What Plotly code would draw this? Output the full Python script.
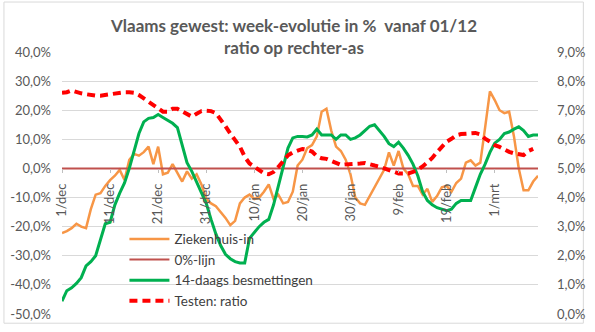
import pandas as pd
import plotly.graph_objects as go

dates = pd.date_range("2020-12-01", periods=100, freq="D")

ziekenhuis = [-22.2, -21.5, -20.5, -19, -20, -20.5, -14, -9, -8.5, -6,
              -4, -2.5, -0.5, -4, 3, 5, 4.4, 5.6, 7.5, 1.5,
              7.5, -2, -1.5, 1.5, -1.5, -4.5, -1, -3.5, -2, -5.5,
              -10.5, -12, -13, -15, -17, -19.5, -18, -12, -10, -9,
              -10.5, -10, -8, -5.5, -10.5, -9, -12, -11.5, -8, 1,
              3, 7, 8, 11, 19.5, 20.5, 13, 7.5, 6, 3,
              -2, -10, -12, -12.5, -9.5, -6, -3, -0.5, 5.5, 1,
              6, 0, -2, -6, -6, -9, -7, -11.5, -9.5, -6.5,
              -6, -8, -5, -3.5, 2, 2.8, 1, 2, 14, 26.5,
              23.5, 20, 19, 19.5, 11, 0, -7.5, -7.5, -4.5, -2.5]

besmettingen = [-45.6, -42, -41, -39.5, -37.5, -33.5, -32, -30, -24.5, -19,
                -18.5, -12.5, -8.5, -5, 0, 6, 12, 16, 17.2, 17.5,
                18.5, 17.5, 16.5, 15.5, 14, 7.5, 2, -1, -4.5, -8,
                -12, -17.5, -22.5, -26.5, -29.5, -31, -32, -32.5, -32.5, -24,
                -22, -20, -18.5, -17.5, -12.5, -6, 1, 7, 10.5, 11,
                11, 10.8, 11.5, 13.5, 11.5, 11.5, 11.5, 10, 11.5, 11.5,
                10, 10.5, 11.5, 13, 14.5, 15, 13, 11, 8.5, 7.5,
                9, 7, 4.5, 1.5, -2.5, -8, -11, -12.5, -13.5, -14,
                -14.5, -14, -12, -11, -11, -11, -6.5, -2, 1.5, 5.5,
                8.7, 10, 12, 12.5, 13.5, 14.3, 13, 11, 11.5, 11.5]

testen_ratio = [7.6, 7.62, 7.68, 7.62, 7.58, 7.55, 7.52, 7.5, 7.5, 7.53,
                7.55, 7.57, 7.6, 7.62, 7.62, 7.6, 7.52, 7.4, 7.28, 7.15,
                7.05, 6.95, 6.95, 7.05, 7.05, 6.95, 6.88, 6.78, 6.88, 6.97,
                6.98, 6.97, 6.9, 6.7, 6.45, 6.2, 5.97, 5.75, 5.4, 5.17,
                5.06, 4.93, 4.83, 4.8, 4.88, 5.05, 5.27, 5.45, 5.55, 5.62,
                5.67, 5.64, 5.58, 5.42, 5.35, 5.33, 5.26, 5.18, 5.12, 5.14,
                5.14, 5.14, 5.17, 5.19, 5.16, 5.1, 5.06, 5.0, 4.93, 4.86,
                4.83, 4.83, 4.83, 4.88, 4.95, 5.07, 5.2, 5.36, 5.56, 5.75,
                5.92, 6.02, 6.14, 6.18, 6.2, 6.22, 6.22, 6.17, 6.02, 5.92,
                5.8, 5.74, 5.64, 5.57, 5.52, 5.5, 5.46, 5.6, 5.67]

nul_lijn = [0.0] * 100

x_tick_dates = ["2020-12-01", "2020-12-11", "2020-12-21", "2020-12-31", "2021-01-10",
                "2021-01-20", "2021-01-30", "2021-02-09", "2021-02-19", "2021-03-01"]
x_tick_labels = ["1/dec", "11/dec", "21/dec", "31/dec", "10/jan",
                 "20/jan", "30/jan", "9/feb", "19/feb", "1/mrt"]

left_tick_vals = [-0.5, -0.4, -0.3, -0.2, -0.1, 0.0, 0.1, 0.2, 0.3, 0.4]
left_tick_labels = ["-50,0%", "-40,0%", "-30,0%", "-20,0%", "-10,0%",
                    "0,0%", "10,0%", "20,0%", "30,0%", "40,0%"]

FONT = "Lato"
GREY = "#595959"

fig = go.Figure()
fig.add_trace(go.Scatter(x=dates, y=[v / 100 for v in ziekenhuis], name="Ziekenhuis-in",
                         mode="lines", line=dict(color="#F79646", width=2.5)))
fig.add_trace(go.Scatter(x=dates, y=nul_lijn, name="0%-lijn",
                         mode="lines", line=dict(color="#C0504D", width=2)))
fig.add_trace(go.Scatter(x=dates, y=[v / 100 for v in besmettingen], name="14-daags besmettingen",
                         mode="lines", line=dict(color="#00B050", width=3)))
fig.add_trace(go.Scatter(x=dates[:len(testen_ratio)], y=[v / 100 for v in testen_ratio],
                         name="Testen: ratio", yaxis="y2",
                         mode="lines", line=dict(color="#FF0000", width=4, dash="8px,5px")))

W, H = 595, 332
ml, mr, mt, mb = 60, 47, 52, 10
pw, ph = W - ml - mr, H - mt - mb

fig.update_layout(
    width=W, height=H,
    margin=dict(l=ml, r=mr, t=mt, b=mb),
    paper_bgcolor="white", plot_bgcolor="white",
    separators=",.",
    font=dict(family=FONT, size=13, color=GREY),
    showlegend=True,
    legend=dict(x=(124 - ml) / pw, y=(H - mb - 229) / ph, xanchor="left", yanchor="top",
                bgcolor="rgba(0,0,0,0)", font=dict(family=FONT, size=13.5, color="#404040"),
                itemwidth=40, tracegroupgap=0),
    xaxis=dict(type="date", range=["2020-12-01", "2021-03-10"],
               tickvals=x_tick_dates, ticktext=x_tick_labels, tickangle=-90,
               anchor="free", position=5 / 9, showgrid=False, zeroline=False, showline=False,
               ticks="outside", ticklen=4, tickcolor="#BFBFBF", ticklabelstandoff=5,
               tickfont=dict(family=FONT, size=13, color=GREY)),
    yaxis=dict(range=[-0.5, 0.4], tickvals=left_tick_vals, ticktext=left_tick_labels,
               showgrid=True, gridcolor="#D9D9D9", gridwidth=1, zeroline=False,
               ticks="", ticklabelstandoff=10, tickfont=dict(family=FONT, size=13, color=GREY)),
    yaxis2=dict(range=[0, 0.09], dtick=0.01, tickformat=".1%", overlaying="y", side="right",
                showgrid=False, zeroline=False, ticks="", ticklabelstandoff=18,
                tickfont=dict(family=FONT, size=13, color=GREY)),
)

fig.add_annotation(text="<b>Vlaams gewest: week-evolutie in %&nbsp; vanaf 01/12</b>",
                   xref="paper", yref="paper", x=(297.5 - ml) / pw, y=(H - mb - 25) / ph,
                   xanchor="center", yanchor="middle", showarrow=False,
                   font=dict(family=FONT, size=17, color=GREY))
fig.add_annotation(text="<b>ratio op rechter-as</b>",
                   xref="paper", yref="paper", x=(297.5 - ml) / pw, y=(H - mb - 47) / ph,
                   xanchor="center", yanchor="middle", showarrow=False,
                   font=dict(family=FONT, size=17, color=GREY))

fig.add_shape(type="rect", xref="paper", yref="paper",
              x0=(0.5 - ml) / pw, x1=(W - 0.5 - ml) / pw,
              y0=(-mb + 0.5) / ph, y1=(H - mb - 0.5) / ph,
              line=dict(color="#D9D9D9", width=1), fillcolor="rgba(0,0,0,0)", layer="below")

fig.write_html("out.html")
